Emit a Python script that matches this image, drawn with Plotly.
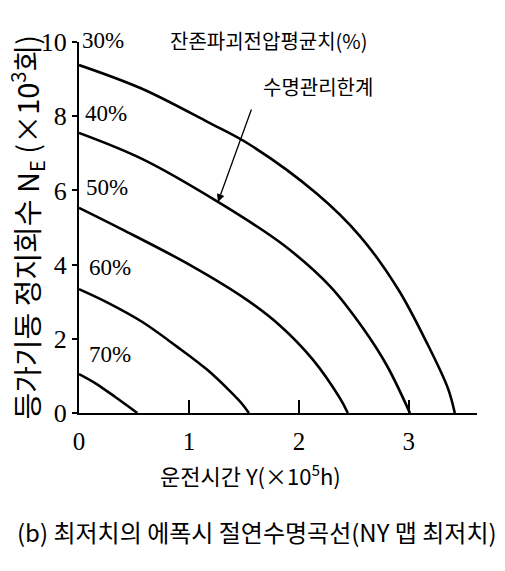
import plotly.graph_objects as go

# Remaining breakdown-voltage curves: operating time Y (x10^5 h) vs equivalent start/stop count N_E (x10^3)
c30_x = [0, 0.573, 1.173, 1.555, 2.164, 2.555, 2.90, 3.164, 3.355, 3.418]
c30_y = [9.38, 8.74, 7.84, 7.23, 5.91, 4.77, 3.35, 1.89, 0.67, 0]

c40_x = [0, 0.573, 1.264, 1.855, 2.282, 2.582, 2.80, 3.01]
c40_y = [7.55, 6.85, 5.69, 4.54, 3.42, 2.29, 1.28, 0]

c50_x = [0, 0.391, 1.027, 1.527, 1.827, 2.127, 2.373, 2.445]
c50_y = [5.53, 4.95, 3.96, 3.05, 2.36, 1.44, 0.40, 0]

c60_x = [0, 0.264, 0.573, 0.891, 1.164, 1.373, 1.482, 1.545]
c60_y = [3.34, 2.97, 2.46, 1.79, 1.17, 0.59, 0.25, 0]

c70_x = [0, 0.15, 0.33, 0.53]
c70_y = [1.05, 0.80, 0.43, 0]

curves = [(c30_x, c30_y), (c40_x, c40_y), (c50_x, c50_y), (c60_x, c60_y), (c70_x, c70_y)]

pct_labels = ["30%", "40%", "50%", "60%", "70%"]
pct_x = [0.218, 0.245, 0.255, 0.28, 0.28]
pct_y = [10.05, 8.06, 6.09, 3.91, 1.59]

x_ticks = [0, 1, 2, 3]
y_ticks = [0, 2, 4, 6, 8, 10]

KR = "Noto Sans CJK KR"
NUM = "Liberation Serif"
Y_PX = 37.1  # pixels per y unit, used to nudge labels that sit on the top edge

fig = go.Figure()
for cx, cy in curves:
    fig.add_trace(go.Scatter(x=cx, y=cy, mode="lines",
                             line=dict(color="black", width=2.6, shape="spline", smoothing=1.0),
                             showlegend=False, hoverinfo="skip", cliponaxis=False))

annotations = []
for t, ax_, ay_ in zip(pct_labels, pct_x, pct_y):
    if ay_ >= 10:
        annotations.append(dict(x=ax_, y=1, xref="x", yref="paper", yanchor="middle",
                                yshift=(ay_ - 10) * Y_PX, text=t, showarrow=False,
                                font=dict(family=NUM, size=23, color="black")))
    else:
        annotations.append(dict(x=ax_, y=ay_, xref="x", yref="y", text=t, showarrow=False,
                                font=dict(family=NUM, size=23, color="black")))

annotations += [
    dict(x=1.727, y=1, xref="x", yref="paper", yanchor="middle", yshift=2,
         text="잔존파괴전압평균치(%)",
         showarrow=False, font=dict(family=KR, size=20, color="black")),
    dict(x=2.17, y=8.79, xref="x", yref="y", text="수명관리한계", showarrow=False,
         font=dict(family=KR, size=20, color="black")),
    # arrow pointing at the service-life limit curve
    dict(x=1.264, y=5.69, xref="x", yref="y", ax=1.573, ay=8.22, axref="x", ayref="y",
         text="", showarrow=True, arrowhead=2, arrowsize=1.2, arrowwidth=1.3, arrowcolor="black"),
    dict(x=0.432, y=0, xref="paper", yref="paper", yshift=-61, yanchor="middle",
         text="운전시간 Y(×10<sup>5</sup>h)",
         showarrow=False, font=dict(family=KR, size=22, color="black")),
    dict(x=0.447, y=0, xref="paper", yref="paper", yshift=-118, yanchor="middle",
         text="(b) 최저치의 에폭시 절연수명곡선(NY 맵 최저치)",
         showarrow=False, font=dict(family=KR, size=24, color="black")),
    dict(x=0, y=0.5, xref="paper", yref="paper", xshift=-53, xanchor="center", yanchor="middle",
         textangle=-90, text="등가기동 정지회수 N<sub>E</sub> (×10<sup>3</sup>회)",
         showarrow=False, font=dict(family=KR, size=29, color="black")),
]

fig.update_layout(
    width=505, height=571,
    margin=dict(l=79, r=28, t=42, b=158),
    paper_bgcolor="white", plot_bgcolor="white",
    annotations=annotations,
    xaxis=dict(range=[0, 3.62], tickvals=x_ticks, ticktext=[str(v) for v in x_ticks],
               showline=True, linecolor="black", linewidth=2, ticks="inside", ticklen=13,
               tickwidth=1.5, tickcolor="black", showgrid=False, zeroline=False,
               ticklabelstandoff=5, tickfont=dict(family=NUM, size=25, color="black")),
    yaxis=dict(range=[0, 10], tickvals=y_ticks, ticktext=[str(v) for v in y_ticks],
               showline=True, linecolor="black", linewidth=2, ticks="outside", ticklen=5,
               tickwidth=1.5, tickcolor="black", showgrid=False, zeroline=False,
               tickfont=dict(family=NUM, size=26, color="black")),
)

fig.write_html("out.html")
